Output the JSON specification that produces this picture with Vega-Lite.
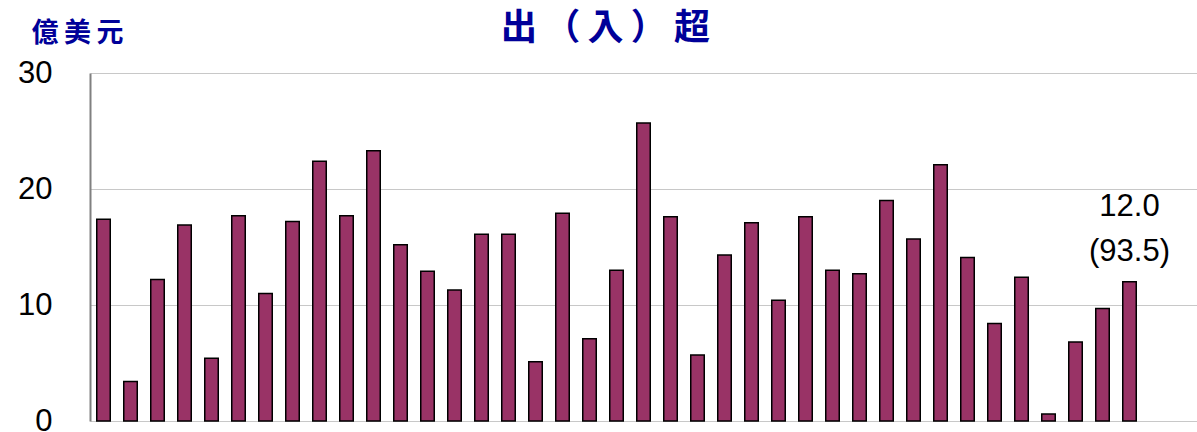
{
  "$schema": "https://vega.github.io/schema/vega-lite/v6.json",
  "width": 1107,
  "height": 348,
  "autosize": "none",
  "padding": {"left": 90, "top": 73, "right": 0, "bottom": 11},
  "background": "white",
  "title": {
    "text": "出\u2009（\u2009入\u2009）\u2009超",
    "anchor": "middle",
    "frame": "group",
    "dx": -38,
    "font": "Noto Sans CJK TC",
    "fontSize": 36,
    "fontWeight": "bold",
    "color": "#000099",
    "offset": -29
  },
  "data": {
    "values": [
      {"i": 1, "v": 17.4},
      {"i": 2, "v": 3.4},
      {"i": 3, "v": 12.2},
      {"i": 4, "v": 16.9},
      {"i": 5, "v": 5.4},
      {"i": 6, "v": 17.7},
      {"i": 7, "v": 11.0},
      {"i": 8, "v": 17.2},
      {"i": 9, "v": 22.4},
      {"i": 10, "v": 17.7},
      {"i": 11, "v": 23.3},
      {"i": 12, "v": 15.2},
      {"i": 13, "v": 12.9},
      {"i": 14, "v": 11.3},
      {"i": 15, "v": 16.1},
      {"i": 16, "v": 16.1},
      {"i": 17, "v": 5.1},
      {"i": 18, "v": 17.9},
      {"i": 19, "v": 7.1},
      {"i": 20, "v": 13.0},
      {"i": 21, "v": 25.7},
      {"i": 22, "v": 17.6},
      {"i": 23, "v": 5.7},
      {"i": 24, "v": 14.3},
      {"i": 25, "v": 17.1},
      {"i": 26, "v": 10.4},
      {"i": 27, "v": 17.6},
      {"i": 28, "v": 13.0},
      {"i": 29, "v": 12.7},
      {"i": 30, "v": 19.0},
      {"i": 31, "v": 15.7},
      {"i": 32, "v": 22.1},
      {"i": 33, "v": 14.1},
      {"i": 34, "v": 8.4},
      {"i": 35, "v": 12.4},
      {"i": 36, "v": 0.6},
      {"i": 37, "v": 6.8},
      {"i": 38, "v": 9.7},
      {"i": 39, "v": 12.0, "label": "12.0\n(93.5)"}
    ]
  },
  "encoding": {
    "x": {
      "field": "i",
      "type": "ordinal",
      "scale": {
        "domain": [1,2,3,4,5,6,7,8,9,10,11,12,13,14,15,16,17,18,19,20,21,22,23,24,25,26,27,28,29,30,31,32,33,34,35,36,37,38,39,40,41],
        "paddingInner": 0.5,
        "paddingOuter": 0.25
      },
      "axis": null
    },
    "y": {
      "field": "v",
      "type": "quantitative",
      "scale": {"domain": [0, 30], "nice": false},
      "axis": {
        "values": [0, 10, 20, 30],
        "grid": true,
        "gridColor": "#c8c8c8",
        "gridWidth": 1,
        "domain": true,
        "domainColor": "#808080",
        "domainWidth": 2,
        "ticks": false,
        "tickSize": 0,
        "labelFont": "Liberation Sans",
        "labelFontSize": 31,
        "labelColor": "#000000",
        "labelPadding": 38,
        "title": "億\u2009美\u2009元",
        "titleAngle": 0,
        "titleX": -13,
        "titleY": -40,
        "titleAlign": "center",
        "titleBaseline": "middle",
        "titleFont": "Noto Sans CJK TC",
        "titleFontSize": 27,
        "titleFontWeight": "bold",
        "titleColor": "#000099"
      }
    }
  },
  "layer": [
    {
      "mark": {"type": "bar", "fill": "#993366", "stroke": "#000000", "strokeWidth": 1.5}
    },
    {
      "transform": [{"filter": "datum.label != null"}],
      "mark": {
        "type": "text",
        "font": "Liberation Sans",
        "fontSize": 31,
        "lineBreak": "\n",
        "lineHeight": 45,
        "align": "center",
        "baseline": "bottom",
        "dy": -59,
        "color": "#000000"
      },
      "encoding": {"text": {"field": "label"}}
    }
  ],
  "config": {"view": {"stroke": null}}
}
